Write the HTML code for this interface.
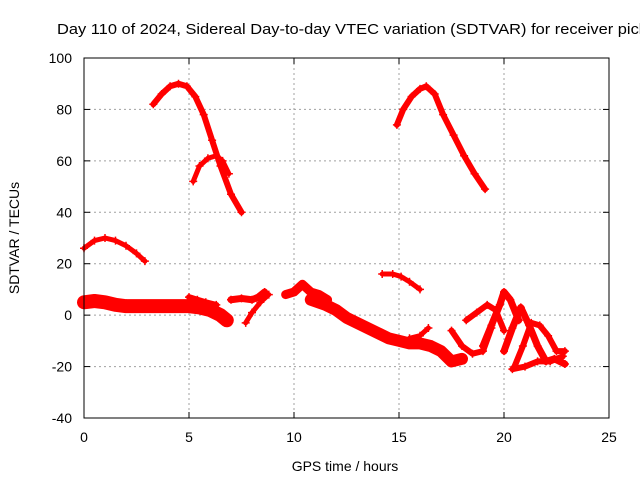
<!DOCTYPE html>
<html><head><meta charset="utf-8"><style>
body{margin:0;background:#fff;overflow:hidden;}
svg{display:block;font-family:"Liberation Sans",sans-serif;}
</style></head><body>
<svg id="chart" width="640" height="480" viewBox="0 0 640 480">
<rect width="640" height="480" fill="#fff"/>
<text x="57" y="34" font-size="15" textLength="590" lengthAdjust="spacingAndGlyphs" fill="#000">Day 110 of 2024, Sidereal Day-to-day VTEC variation (SDTVAR) for receiver pick</text>
<g id="grid"></g>
<g id="marks"></g>
<rect x="84" y="58" width="525" height="360" fill="none" stroke="#000" stroke-width="1"/>
<g id="axes"></g>
<text x="345" y="471" font-size="14" text-anchor="middle">GPS time / hours</text>
<text transform="translate(19,238) rotate(-90)" font-size="14" text-anchor="middle">SDTVAR / TECUs</text>
</svg>
<script>
const xTicks=[0,5,10,15,20,25];
const yTicks=[-40,-20,0,20,40,60,80,100];
// tracks: times (hours) and values (TECU)
const arc1T=[0,0.5,1,1.5,2,2.5,2.9];
const arc1V=[26,29,30,29,27,24,21];
const arc2T=[3.3,3.7,4.1,4.5,4.9,5.3,5.7,6.1,6.5,7.0,7.5];
const arc2V=[82,86,89,90,89,85,78,68,58,47,40];
const arc3T=[5.2,5.5,5.9,6.3,6.6,6.9];
const arc3V=[52,58,61,62,60,55];
const arc4T=[14.9,15.2,15.6,16.0,16.3,16.7,17.1,17.6,18.1,18.6,19.1];
const arc4V=[74,80,85,88,89,86,78,70,62,55,49];
const arc5T=[14.2,14.7,15.1,15.5,16.0];
const arc5V=[16,16,15,13,10];
const band1T=[0,0.5,1,1.5,2,3,4,5,5.5,6.0,6.5,6.8];
const band1V=[5,5.5,5,4,3.5,3.5,3.5,3.5,3,2,0,-2];
const band2T=[5.0,5.4,5.8,6.3];
const band2V=[7,6,5,4];
const band3T=[7.0,7.5,8.0,8.3,8.6];
const band3V=[6,6.5,6,7,9];
const band4T=[7.7,8.0,8.4,8.8];
const band4V=[-3,1,5,8];
const band5T=[9.6,10.0,10.4,10.8,11.2,11.6];
const band5V=[8,9,12,9,8,6];
const band6T=[10.8,11.5,12.0,12.5,13.0,13.5,14.0,14.5,15.0,15.5,16.0,16.5,17.0,17.5,18.0];
const band6V=[6,4,2,-1,-3,-5,-7,-9,-10,-11,-11,-12,-14,-18,-17];
const band7T=[15.5,16.0,16.4];
const band7V=[-9,-8,-5];
const strand1T=[17.5,18.0,18.5,19.0,19.4];
const strand1V=[-6,-12,-15,-14,-5];
const strand2T=[18.2,18.7,19.2,19.6,20.0];
const strand2V=[-2,1,4,2,-6];
const strand3T=[19.0,19.4,19.8,20.0,20.3,20.7];
const strand3V=[-12,-4,4,9,6,-2];
const strand4T=[20.0,20.4,20.8,21.2,21.6,22.0,22.4,22.9];
const strand4V=[-14,-5,3,-4,-12,-18,-17,-19];
const strand5T=[20.5,20.9,21.3,21.7,22.1,22.5,22.9];
const strand5V=[-20,-12,-3,-4,-8,-14,-14];
const strand6T=[20.4,21.0,21.6,22.2,22.8];
const strand6V=[-21,-20,-18,-18,-16];
const tracks=[[arc1T,arc1V,5],[arc2T,arc2V,6],[arc3T,arc3V,5],[arc4T,arc4V,6],[arc5T,arc5V,5],
[band1T,band1V,14],[band2T,band2V,6],[band3T,band3V,7],[band4T,band4V,5],[band5T,band5V,9],
[band6T,band6V,12],[band7T,band7V,5],[strand1T,strand1V,6],[strand2T,strand2V,6],[strand3T,strand3V,7],
[strand4T,strand4V,7],[strand5T,strand5V,6],[strand6T,strand6V,6]];
const X=t=>84+t*21;
const Y=v=>58+(100-v)*360/140;
const NS="http://www.w3.org/2000/svg";
const grid=document.getElementById('grid'),axes=document.getElementById('axes'),marks=document.getElementById('marks');
function mk(tag,attrs,parent){const e=document.createElementNS(NS,tag);for(const k in attrs)e.setAttribute(k,attrs[k]);parent.appendChild(e);return e;}
xTicks.forEach(t=>{
 if(t>0&&t<25){const g=mk('line',{x1:X(t),x2:X(t),y1:58,y2:418,stroke:'#a0a0a0','stroke-dasharray':'2,3'},grid);
 
 }
 mk('line',{x1:X(t),x2:X(t),y1:418,y2:412,stroke:'#000'},axes);
 mk('line',{x1:X(t),x2:X(t),y1:58,y2:64,stroke:'#000'},axes);
 const l=mk('text',{x:X(t),y:442,'font-size':14,'text-anchor':'middle'},axes);l.textContent=t;
 
 
});
yTicks.forEach(v=>{
 if(v>-40&&v<100){const g=mk('line',{x1:84,x2:609,y1:Y(v),y2:Y(v),stroke:'#a0a0a0','stroke-dasharray':'2,3'},grid);
 
 }
 mk('line',{x1:84,x2:90,y1:Y(v),y2:Y(v),stroke:'#000'},axes);
 mk('line',{x1:609,x2:603,y1:Y(v),y2:Y(v),stroke:'#000'},axes);
 const l=mk('text',{x:72,y:Y(v)+5,'font-size':14,'text-anchor':'end'},axes);l.textContent=v;
 
 
});
tracks.forEach(([T,V,w])=>{
 const pts=T.map((t,i)=>X(t)+','+Y(V[i])).join(' ');
 const p=mk('polyline',{points:pts,fill:'none',stroke:'#ff0000','stroke-width':w,'stroke-linejoin':'round','stroke-linecap':'round'},marks);
 
 
 T.forEach((t,i)=>{
  const x=X(t),y=Y(V[i]);
  const m=mk('path',{d:`M${x-4},${y}H${x+4}M${x},${y-4}V${y+4}`,stroke:'#ff0000','stroke-width':1.5},marks);
  
  
 });
});
</script>
</body></html>
